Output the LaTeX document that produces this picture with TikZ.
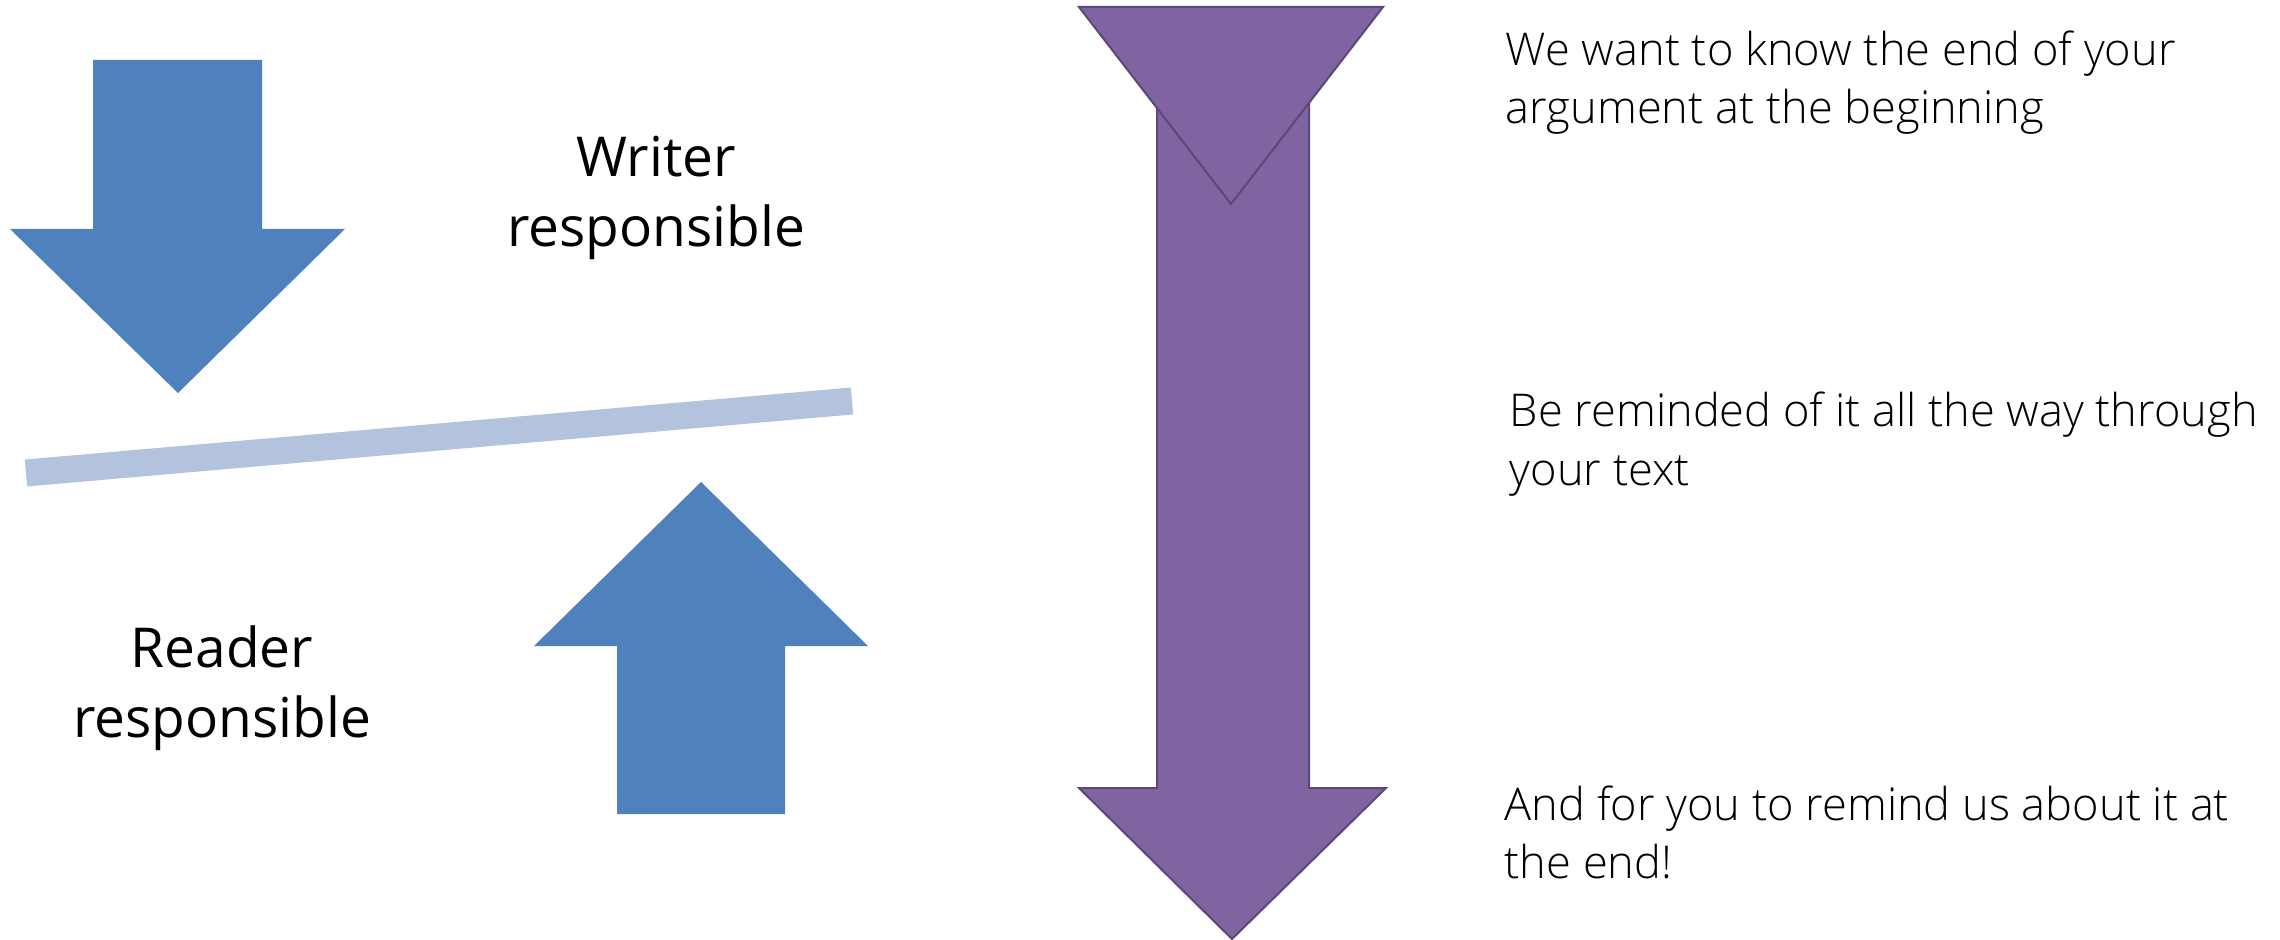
\documentclass[tikz,border=0pt]{standalone}
\usepackage{fontspec}
\setmainfont{Open Sans}
\newfontfamily\lightfont{Open Sans Light}
\definecolor{bluearrow}{HTML}{4F81BD}
\definecolor{barblue}{HTML}{B3C2DD}
\definecolor{purplefill}{HTML}{8064A2}
\definecolor{purpleline}{HTML}{5C4776}
\begin{document}
\begin{tikzpicture}[x=0.25pt,y=-0.25pt,
  bigarrow/.style={fill=bluearrow,draw=none},
  purparrow/.style={fill=purplefill,draw=purpleline,line width=0.5pt,line join=miter},
  label/.style={inner sep=0pt,anchor=base,font=\fontsize{13.75}{17.5}\selectfont},
  note/.style={inner sep=0pt,anchor=base west,font=\lightfont\fontsize{11.3}{14.5}\selectfont}]
\useasboundingbox (0,0) rectangle (2280,940);
% left: blue arrows and bar
\path[bigarrow] (93,60) -- (262,60) -- (262,229) -- (345,229) -- (178,393) -- (10,229) -- (93,229) -- cycle;
\path[bigarrow] (701,482) -- (868,646) -- (785,646) -- (785,814) -- (617,814) -- (617,646) -- (534,646) -- cycle;
\coordinate (barL) at (26,473);
\coordinate (barR) at (852,401);
\draw[barblue,line width=6.75pt] (barL) -- (barR);
\node[label] (writer) at (656,177) {\begin{tabular}[t]{@{}c@{}}Writer\\responsible\end{tabular}};
\node[label] (reader) at (222,667) {\begin{tabular}[t]{@{}c@{}}Reader\\responsible\end{tabular}};
% purple arrow
\path[purparrow] (1157,12) -- (1309,12) -- (1309,788) -- (1386,788) -- (1232,939) -- (1079,788) -- (1157,788) -- cycle;
\path[purparrow] (1079,7) -- (1383,7) -- (1231,204) -- cycle;
% notes
\node[note] (n1) at (1505,66) {\begin{tabular}[t]{@{}l@{}}We want to know the end of your\\argument at the beginning\end{tabular}};
\node[note] (n2) at (1509,427) {\begin{tabular}[t]{@{}l@{}}Be reminded of it all the way through\\your text\end{tabular}};
\node[note] (n3) at (1504,820) {\begin{tabular}[t]{@{}l@{}}And for you to remind us about it at\\the end!\end{tabular}};
\end{tikzpicture}
\end{document}
